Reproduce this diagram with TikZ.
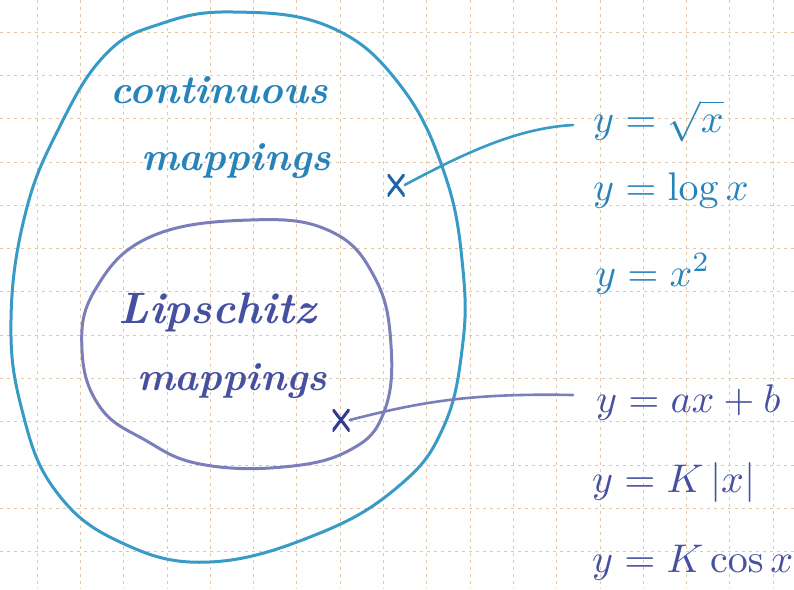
\documentclass[tikz,border=0pt]{standalone}
\usepackage{graphicx}
\definecolor{gridc}{RGB}{228,200,165}
\definecolor{tealline}{RGB}{55,155,198}
\definecolor{tealtext}{RGB}{38,132,186}
\definecolor{tealdark}{RGB}{30,100,168}
\definecolor{lipline}{RGB}{122,127,186}
\definecolor{liptext}{RGB}{70,80,160}
\definecolor{lipdark}{RGB}{48,58,142}
\newcommand{\bigformula}[1]{\scalebox{4}{$#1$}}
\tikzset{
  gridline/.style={draw=gridc, line width=0.7pt, dash pattern=on 3pt off 4pt},
  loopline/.style={line width=3pt, line cap=round, line join=round},
  handtext/.style={font=\fontsize{40}{44}\selectfont\bfseries\itshape, inner sep=0pt},
  formula/.style={inner sep=0pt, anchor=base west},
  link/.style={line width=2.6pt, line cap=round},
  xmark/.style={minimum width=17pt, minimum height=22pt, inner sep=0pt,
    path picture={\draw[line width=3pt, line cap=round]
      (path picture bounding box.south west) -- (path picture bounding box.north east)
      (path picture bounding box.north west) -- (path picture bounding box.south east);}}
}
\begin{document}
\begin{tikzpicture}[x=1pt,y=-1pt]
\useasboundingbox (0,0) rectangle (794,589);
\fill[white] (0,0) rectangle (794,589);
% grid paper
\foreach \i in {0,...,17} \draw[gridline] ({37+43.3*\i},0) -- ({37+43.3*\i},589);
\foreach \j in {0,...,12} \draw[gridline] (0,{32+43.3*\j}) -- (794,{32+43.3*\j});
% outer loop: continuous mappings
\draw[loopline, draw=tealline] plot[smooth cycle, tension=0.7] coordinates {
  (233,12) (330,27) (400,85) (445,175) (463,270) (462,350) (443,428) (400,485)
  (320,533) (210,562) (120,542) (55,490) (22,410) (11,320) (25,215) (58,130)
  (105,55) (160,24)};
% inner loop: Lipschitz mappings
\draw[loopline, draw=lipline] plot[smooth cycle, tension=0.7] coordinates {
  (250,220) (330,231) (375,278) (391,345) (384,412) (350,450) (283,467)
  (200,464) (145,440) (100,407) (82,350) (95,290) (150,237)};
% labels
\node[handtext, text=tealtext, anchor=base] (cont) at (219,103) {continuous};
\node[handtext, text=tealtext, anchor=base] (contm) at (236,170) {mappings};
\node[handtext, text=liptext, anchor=base, font=\fontsize{44}{48}\selectfont\bfseries\itshape] (lip) at (217,323) {Lipschitz};
\node[handtext, text=liptext, anchor=base] (lipm) at (232,390) {mappings};
% marks
\node[xmark, color=tealdark] (xa) at (396,185) {};
\node[xmark, color=lipdark] (xb) at (341,420) {};
% formulas
\node[formula, text=tealtext] (f1) at (593,132) {\bigformula{y=\sqrt{x}}};
\node[formula, text=tealtext] (f2) at (593,200) {\bigformula{y=\log x}};
\node[formula, text=tealtext] (f3) at (595,286) {\bigformula{y=x^{2}}};
\node[formula, text=liptext] (f4) at (596,412) {\bigformula{y=ax+b}};
\node[formula, text=liptext] (f5) at (592,492) {\bigformula{y=K\,|x|}};
\node[formula, text=liptext] (f6) at (592,572) {\bigformula{y=K\cos x}};
% connectors
\coordinate (e1) at (573,125);
\coordinate (e2) at (573,395);
\draw[link, draw=tealline] (xa.east) .. controls (470,150) and (520,128) .. (e1);
\draw[link, draw=lipline] (xb.east) .. controls (420,402) and (470,393) .. (e2);
\end{tikzpicture}
\end{document}
